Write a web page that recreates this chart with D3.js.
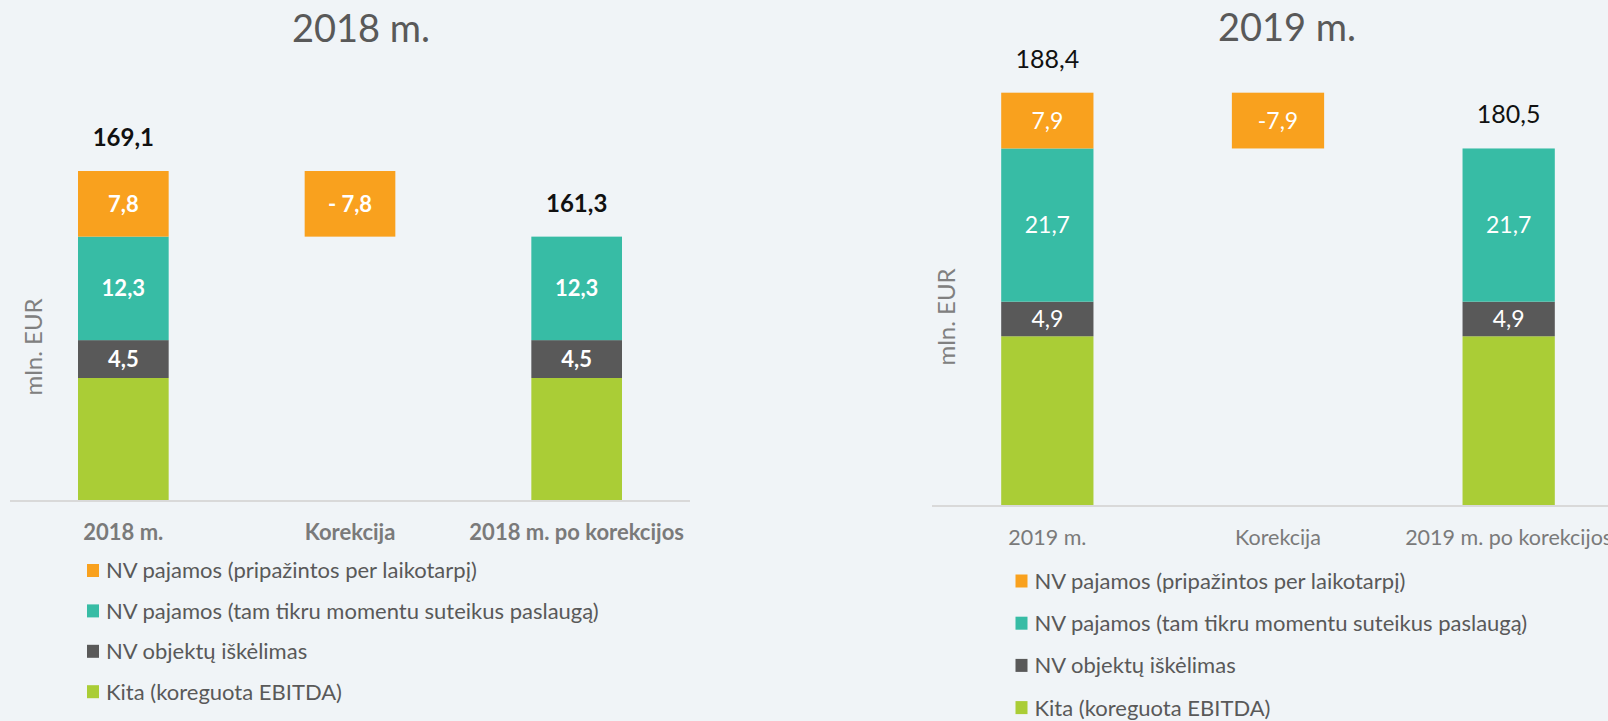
<!DOCTYPE html>
<meta charset="utf-8">
<head>
  <title>NV pajamos korekcija</title>
  <script src="https://cdn.jsdelivr.net/npm/d3@7"></script>
  <style>
    body { margin: 0; background: #f0f4f7; }
    svg { display: block; }
    text { font-family: Lato, "Open Sans", sans-serif; }
  </style>
</head>
<body>
<svg></svg>
<script>
// series, bottom to top of the stack
var seriesNames = ["Kita (koreguota EBITDA)", "NV objektų iškėlimas",
  "NV pajamos (tam tikru momentu suteikus paslaugą)", "NV pajamos (pripažintos per laikotarpį)"];
var seriesColors = ["#aacd36", "#595959", "#37bca5", "#f9a11e"];

var categories2018 = ["2018 m.", "Korekcija", "2018 m. po korekcijos"];
var kita2018 = [144.5, 0, 144.5];
var iskelimas2018 = [4.5, 0, 4.5];
var momentu2018 = [12.3, 0, 12.3];
var laikotarpi2018 = [7.8, -7.8, 0];
var totals2018 = [169.1, null, 161.3];

var categories2019 = ["2019 m.", "Korekcija", "2019 m. po korekcijos"];
var kita2019 = [153.9, 0, 153.9];
var iskelimas2019 = [4.9, 0, 4.9];
var momentu2019 = [21.7, 0, 21.7];
var laikotarpi2019 = [7.9, -7.9, 0];
var totals2019 = [188.4, null, 180.5];

var W = 1608, H = 721;
var svg = d3.select("svg").attr("width", W).attr("height", H);
svg.append("rect").attr("width", W).attr("height", H).attr("fill", "#f0f4f7");

var comma = function(v) { return d3.format(".1f")(Math.abs(v)).replace(".", ","); };

function drawPanel(cfg) {
  var g = svg.append("g");
  var x = d3.scaleBand().domain(cfg.categories).range([cfg.x0, cfg.x1])
      .paddingInner(0.6).paddingOuter(0.3);
  // y axis is cut at 130 like in the original
  var y = d3.scaleLinear().domain(cfg.yDomain).range([cfg.yBottom, cfg.yTop]).clamp(true);

  var values = [cfg.kita, cfg.iskelimas, cfg.momentu, cfg.laikotarpi];

  // build segments (waterfall: a correction starts from previous total)
  var segs = [];
  cfg.categories.forEach(function(c, i) {
    var running = cfg.totals[i] == null ? cfg.totals[i - 1] : 0;
    values.forEach(function(arr, s) {
      var v = arr[i];
      if (!v) return;
      var a = running, b = running + v;
      segs.push({cat: c, s: s, v: v, lo: Math.min(a, b), hi: Math.max(a, b)});
      running = b;
    });
  });

  g.append("text")
      .attr("x", cfg.titleX).attr("y", cfg.titleY)
      .attr("text-anchor", "middle")
      .style("font-size", "38px").style("fill", "#595959")
      .text(cfg.title);

  g.append("line")
      .attr("x1", cfg.axisStart).attr("x2", cfg.x1)
      .attr("y1", cfg.yBottom + 1).attr("y2", cfg.yBottom + 1)
      .style("stroke", "#d9d9d9").style("stroke-width", 2);

  g.selectAll(".seg").data(segs).enter().append("rect")
      .attr("class", "seg")
      .attr("x", function(d) { return x(d.cat); })
      .attr("width", x.bandwidth())
      .attr("y", function(d) { return y(d.hi); })
      .attr("height", function(d) { return y(d.lo) - y(d.hi); })
      .style("fill", function(d) { return seriesColors[d.s]; });

  g.selectAll(".seglabel").data(segs.filter(function(d) { return d.s > 0; })).enter().append("text")
      .attr("x", function(d) { return x(d.cat) + x.bandwidth() / 2; })
      .attr("y", function(d) { return (y(d.lo) + y(d.hi)) / 2; })
      .attr("dy", "0.36em")
      .attr("text-anchor", "middle")
      .style("font-size", cfg.innerSize).style("font-weight", cfg.weight)
      .style("fill", "#fff")
      .text(function(d) { return (d.v < 0 ? cfg.minus : "") + comma(d.v); });

  g.selectAll(".total").data(cfg.categories.filter(function(c, i) { return cfg.totals[i] != null; }))
    .enter().append("text")
      .attr("x", function(c) { return x(c) + x.bandwidth() / 2; })
      .attr("y", function(c) { return y(cfg.totals[cfg.categories.indexOf(c)]) - 25; })
      .attr("text-anchor", "middle")
      .style("font-size", cfg.totalSize).style("font-weight", cfg.weight)
      .style("fill", "#111")
      .text(function(c) { return comma(cfg.totals[cfg.categories.indexOf(c)]); });

  // last label runs past the page edge in the original too
  g.selectAll(".cat").data(cfg.categories).enter().append("text")
      .attr("x", function(c) { return x(c) + x.bandwidth() / 2; })
      .attr("y", cfg.yBottom + cfg.catDy)
      .attr("text-anchor", "middle")
      .style("font-size", cfg.catSize).style("font-weight", cfg.weight)
      .style("fill", "#7a7a7a")
      .text(function(c) { return c; });

  g.append("text")
      .attr("transform", "translate(" + cfg.unitX + "," + cfg.unitY + ") rotate(-90)")
      .attr("text-anchor", "middle")
      .attr("dy", "0.35em")
      .style("font-size", "24px").style("fill", "#808080")
      .text("mln. EUR");

  var legend = g.selectAll(".legend").data([3, 2, 1, 0]).enter().append("g")
      .attr("transform", function(s, i) { return "translate(" + cfg.legendX + "," + (cfg.legendY + i * cfg.legendStep) + ")"; });
  legend.append("rect")
      .attr("x", 0).attr("y", -6.5).attr("width", 12).attr("height", 13)
      .style("fill", function(s) { return seriesColors[s]; });
  legend.append("text")
      .attr("x", 19).attr("dy", "0.36em")
      .style("font-size", "22px").style("fill", "#595959")
      .text(function(s) { return seriesNames[s]; });
}

drawPanel({
  title: "2018 m.", titleX: 361, titleY: 42,
  categories: categories2018, kita: kita2018, iskelimas: iskelimas2018,
  momentu: momentu2018, laikotarpi: laikotarpi2018, totals: totals2018,
  x0: 10, x1: 690, axisStart: 10,
  yDomain: [130, 175], yBottom: 500, yTop: 500 - 45 * 8.414,
  weight: "bold", minus: "- ", innerSize: "22px", totalSize: "24px", catSize: "22px", catDy: 40,
  unitX: 34, unitY: 347,
  legendX: 87, legendY: 570.5, legendStep: 40.4
});

drawPanel({
  title: "2019 m.", titleX: 1287, titleY: 41,
  categories: categories2019, kita: kita2019, iskelimas: iskelimas2019,
  momentu: momentu2019, laikotarpi: laikotarpi2019, totals: totals2019,
  x0: 932, x1: 1624, axisStart: 932,
  yDomain: [130, 195], yBottom: 505, yTop: 505 - 65 * 7.06,
  weight: "normal", minus: "-", innerSize: "23px", totalSize: "25px", catSize: "21.5px", catDy: 40,
  unitX: 947, unitY: 317,
  legendX: 1015.5, legendY: 581, legendStep: 42.2
});
</script>
</body>
